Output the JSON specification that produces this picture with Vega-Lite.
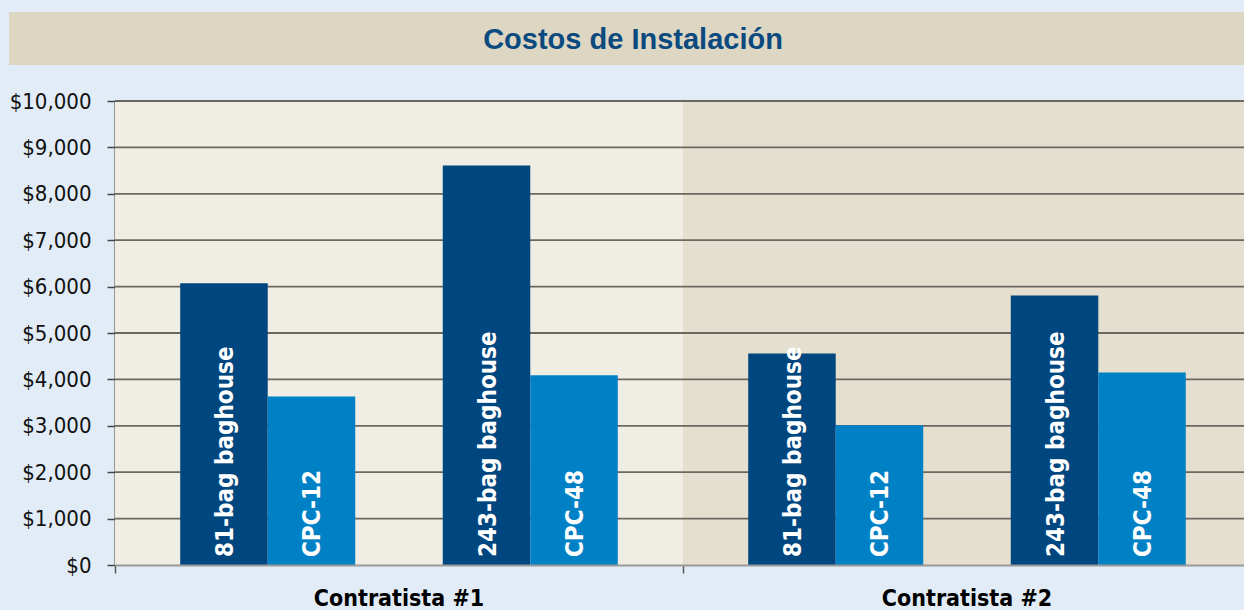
{
  "$schema": "https://vega.github.io/schema/vega-lite/v6.json",
  "background": "#e2ecf7",
  "padding": {"left": 9, "top": 12, "right": 0, "bottom": 0},
  "spacing": 25,
  "config": {"view": {"stroke": null}},
  "datasets": {
    "titulo": [{"texto": "Costos de Instalación"}],
    "costos": [
      {"contratista": "Contratista #1", "sistema": "81-bag baghouse", "costo": 6070},
      {"contratista": "Contratista #1", "sistema": "CPC-12", "costo": 3630},
      {"contratista": "Contratista #1", "sistema": "243-bag baghouse", "costo": 8610},
      {"contratista": "Contratista #1", "sistema": "CPC-48", "costo": 4090},
      {"contratista": "Contratista #2", "sistema": "81-bag baghouse", "costo": 4560},
      {"contratista": "Contratista #2", "sistema": "CPC-12", "costo": 3010},
      {"contratista": "Contratista #2", "sistema": "243-bag baghouse", "costo": 5810},
      {"contratista": "Contratista #2", "sistema": "CPC-48", "costo": 4150}
    ],
    "fondo": [{"contratista": "Contratista #1"}, {"contratista": "Contratista #2"}],
    "rejilla": [{"v": 1000}, {"v": 2000}, {"v": 3000}, {"v": 4000}, {"v": 5000}, {"v": 6000}, {"v": 7000}, {"v": 8000}, {"v": 9000}, {"v": 10000}]
  },
  "vconcat": [
    {
      "width": 1142,
      "height": 53,
      "view": {"fill": "#dcd6c3", "stroke": null},
      "data": {"name": "titulo"},
      "mark": {"type": "text", "font": "Liberation Sans", "fontWeight": "bold", "fontSize": 29, "color": "#0b4a7e", "baseline": "middle", "dy": 1, "dx": -53},
      "encoding": {
        "text": {"field": "texto", "type": "nominal"},
        "y": {"datum": 1, "type": "quantitative", "scale": {"domain": [0, 2]}, "axis": {"title": null, "labels": false, "ticks": false, "grid": false, "translate": 0, "domainWidth": 212, "domainColor": "#dcd6c3", "domainCap": "butt"}}
      }
    },
    {
      "width": 1136,
      "height": 464,
      "layer": [
        {
          "data": {"name": "fondo"},
          "mark": {"type": "rect"},
          "encoding": {
            "x": {
              "field": "contratista", "type": "nominal",
              "scale": {"domain": ["Contratista #1", "Contratista #2"], "paddingInner": 0, "paddingOuter": 0},
              "axis": {"title": null, "labelAngle": 0, "labelLimit": 0, "labelFont": "DejaVu Sans Condensed, Liberation Sans, sans-serif", "labelFontWeight": "bold", "labelFontSize": 23, "labelColor": "#000000", "labelPadding": 14, "tickSize": 8, "tickColor": "#555555", "tickWidth": 1.5, "bandPosition": 0, "domainColor": "#9a9a9a", "domainWidth": 2, "grid": false}
            },
            "fill": {"field": "contratista", "type": "nominal", "scale": {"domain": ["Contratista #1", "Contratista #2"], "range": ["#f0ede5", "#e5dfd0"]}, "legend": null}
          }
        },
        {
          "data": {"name": "rejilla"},
          "mark": {"type": "rule", "color": "#6b6861", "strokeWidth": 1.8},
          "encoding": {"y": {"field": "v", "type": "quantitative"}}
        },
        {
          "data": {"name": "costos"},
          "mark": {"type": "bar"},
          "encoding": {
            "x": {
              "field": "contratista", "type": "nominal",
              "scale": {"domain": ["Contratista #1", "Contratista #2"], "paddingInner": 0, "paddingOuter": 0},
              "axis": {"title": null, "labelAngle": 0, "labelLimit": 0, "labelFont": "DejaVu Sans Condensed, Liberation Sans, sans-serif", "labelFontWeight": "bold", "labelFontSize": 23, "labelColor": "#000000", "labelPadding": 14, "tickSize": 8, "tickColor": "#555555", "tickWidth": 1.5, "bandPosition": 0, "domainColor": "#9a9a9a", "domainWidth": 2, "grid": false}
            },
            "xOffset": {"field": "sistema", "type": "nominal", "scale": {"domain": ["81-bag baghouse", "CPC-12", " ", "243-bag baghouse", "CPC-48"], "paddingInner": 0, "paddingOuter": 0.745}},
            "y": {"field": "costo", "type": "quantitative"},
            "color": {"field": "sistema", "type": "nominal", "scale": {"domain": ["81-bag baghouse", "CPC-12", "243-bag baghouse", "CPC-48"], "range": ["#00467f", "#0080c5", "#00467f", "#0080c5"]}, "legend": null}
          }
        },
        {
          "data": {"name": "costos"},
          "mark": {"type": "text", "angle": 270, "align": "left", "baseline": "middle", "dx": 8, "dy": 2, "font": "DejaVu Sans Condensed, Liberation Sans, sans-serif", "fontWeight": "bold", "fontSize": 24, "color": "#ffffff"},
          "encoding": {
            "x": {"field": "contratista", "type": "nominal"},
            "xOffset": {"field": "sistema", "type": "nominal"},
            "y": {"datum": 0, "type": "quantitative"},
            "text": {"field": "sistema", "type": "nominal"}
          }
        }
      ],
      "encoding": {
        "y": {
          "type": "quantitative",
          "scale": {"domain": [0, 10000], "nice": false},
          "axis": {"title": null, "values": [0, 1000, 2000, 3000, 4000, 5000, 6000, 7000, 8000, 9000, 10000], "format": "$,.0f", "labelFont": "DejaVu Sans Condensed, Liberation Sans, sans-serif", "labelFontSize": 22, "labelColor": "#111111", "labelPadding": 16, "tickSize": 8, "tickColor": "#444444", "tickWidth": 1.5, "domainColor": "#444444", "domainWidth": 2, "grid": false}
        }
      }
    }
  ]
}
